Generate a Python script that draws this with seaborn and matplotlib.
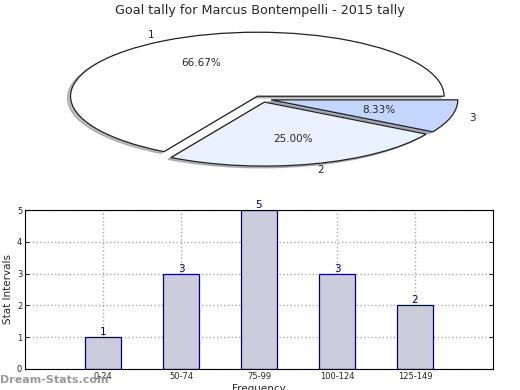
import numpy as np
import pandas as pd
import matplotlib
matplotlib.use("Agg")
import matplotlib.pyplot as plt
import seaborn as sns

# Pie data
pie_labels = ["1", "2", "3"]
pie_values = [8, 3, 1]
pie_colors = ["#ffffff", "#eaf1fe", "#c4d6fc"]

# Bar data
bins = ["0-24", "50-74", "75-99", "100-124", "125-149"]
counts = [1, 3, 5, 3, 2]

sns.set_style("white")
plt.rcParams["font.family"] = ["DejaVu Sans"]

fig = plt.figure(figsize=(5.2, 3.9), dpi=100)

# Pie chart (squashed, as in the original)
ax_pie = fig.add_axes([28.5 / 520, 211 / 390, 467 / 520, 160 / 390])
ax_pie.pie(
    pie_values,
    labels=pie_labels,
    colors=pie_colors,
    explode=[0.05, 0.05, 0.05],
    autopct="%.2f%%",
    shadow={"ox": -0.012, "oy": -0.02, "shade": 0.5},
    startangle=0,
    wedgeprops={"edgecolor": "#222222", "linewidth": 0.9},
    textprops={"fontsize": 7.5},
)
ax_pie.set_aspect("auto")
ax_pie.set_xlim(-1.25, 1.25)
ax_pie.set_ylim(-1.25, 1.25)

fig.text(0.5, 0.972, "Goal tally for Marcus Bontempelli - 2015 tally",
         ha="center", va="center", fontsize=9.2)

# Bar chart
ax_bar = fig.add_axes([25 / 520, 21 / 390, 468 / 520, 159 / 390])
df = pd.DataFrame({"bin": bins, "count": counts})
sns.barplot(data=df, x="bin", y="count", ax=ax_bar, width=0.46,
            color="#ccccdd", edgecolor="#000080", linewidth=0.9,
            saturation=1)
for p, v in zip(ax_bar.patches, counts):
    ax_bar.text(p.get_x() + p.get_width() / 2, v, str(v),
                ha="center", va="bottom", color="#000080", fontsize=7.5)

ax_bar.set_xlim(-1, 5)
ax_bar.set_ylim(0, 5)
ax_bar.set_yticks(range(6))
ax_bar.grid(True, linestyle=":", color="#aaaaaa", linewidth=1)
ax_bar.set_axisbelow(True)
for s in ax_bar.spines.values():
    s.set_color("black")
    s.set_linewidth(0.8)
ax_bar.tick_params(axis="both", labelsize=6, direction="in", length=3,
                   right=True, top=False, left=True, bottom=True, pad=2)
ax_bar.set_ylabel("Stat Intervals", fontsize=7.5, labelpad=3)
ax_bar.set_xlabel("Frequency", fontsize=7.5, labelpad=2)

fig.text(0.0, 0.025, "Dream-Stats.com", color="#999999", fontsize=8,
         fontweight="bold", ha="left", va="center")

fig.savefig("out.png", dpi=100)
